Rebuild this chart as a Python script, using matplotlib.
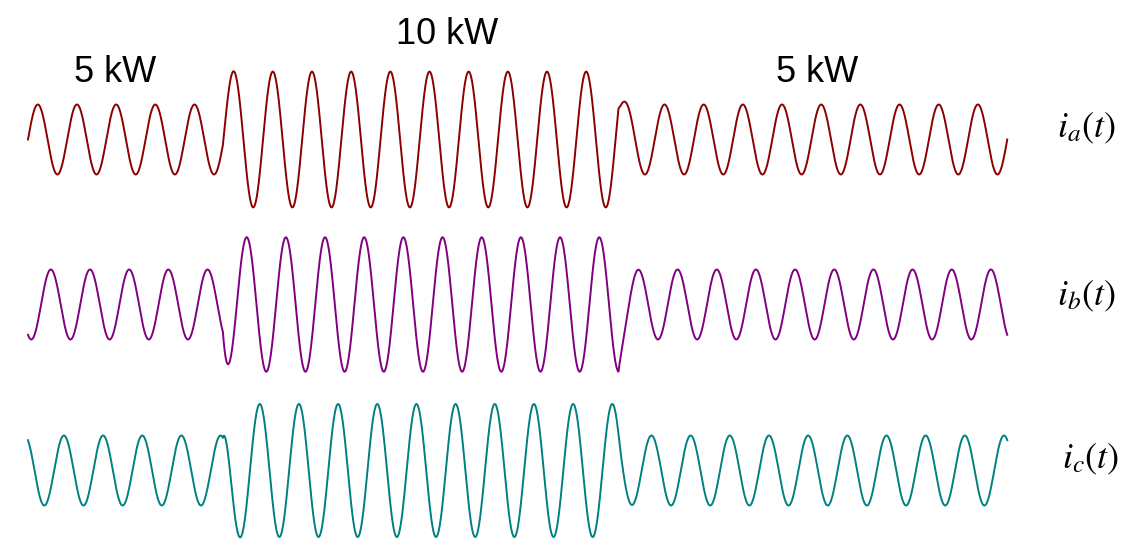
import numpy as np
import matplotlib
matplotlib.use('Agg')
import matplotlib.pyplot as plt

plt.rcParams['mathtext.fontset'] = 'stix'

# dados: correntes trifasicas com degrau de carga
freq = 50.0                      # Hz
t_total = 0.5                    # s
switch_times = [0.0995, 0.3015]  # entrada e saida da carga extra (s)
load_labels = ['5 kW', '10 kW', '5 kW']
tau = 0.002                      # constante de tempo do transitorio (s)

phase_names = ['$i_a(t)$', '$i_b(t)$', '$i_c(t)$']
phase_deg = [0, -120, 120]
amp_a = [1.0, 1.94, 1.0]
amp_b = [1.0, 1.92, 1.0]
amp_c = [1.0, 1.90, 1.0]
cores = ['#8b0000', '#800080', '#008080']

t = np.linspace(0, t_total, 6001)


def corrente(amps, fase_deg):
    phi = np.deg2rad(fase_deg)
    seg = np.searchsorted(switch_times, t, side='right')
    A = np.array(amps)[seg]
    i = A * np.sin(2 * np.pi * freq * t + phi)
    for k, ts in enumerate(switch_times):
        salto = (amps[k + 1] - amps[k]) * np.sin(2 * np.pi * freq * ts + phi)
        m = t >= ts
        i[m] -= salto * np.exp(-(t[m] - ts) / tau)
    return i


W, H = 1127, 541
fig = plt.figure(figsize=(W / 100, H / 100), dpi=100)

# posicao das linhas (centro em pixels) e escala
centros = [139.5, 304.5, 470.5]
px_por_s = 1958.5
x0 = 28
xlim = (-x0 / px_por_s, (W - x0) / px_por_s)

for amps, fase, cor, c in zip([amp_a, amp_b, amp_c], phase_deg, cores, centros):
    ax = fig.add_axes([0, (H - (c + 70)) / H, 1, 140 / H])
    ax.plot(t, corrente(amps, fase), color=cor, lw=1.4)
    ax.set_xlim(*xlim)
    ax.set_ylim(-2, 2)
    ax.axis('off')

# rotulos de potencia
pos_carga = [(115, 82), (447, 44), (817, 82)]
for txt, (x, y) in zip(load_labels, pos_carga):
    fig.text(x / W, 1 - y / H, txt, ha='center', va='baseline',
             fontsize=26, family='Liberation Sans')

# nomes das fases
pos_fase = [(1057, 137), (1057, 305), (1062, 468)]
for txt, (x, y) in zip(phase_names, pos_fase):
    fig.text(x / W, 1 - y / H, txt, ha='left', va='baseline', fontsize=26)

fig.savefig('out.png', dpi=100)
